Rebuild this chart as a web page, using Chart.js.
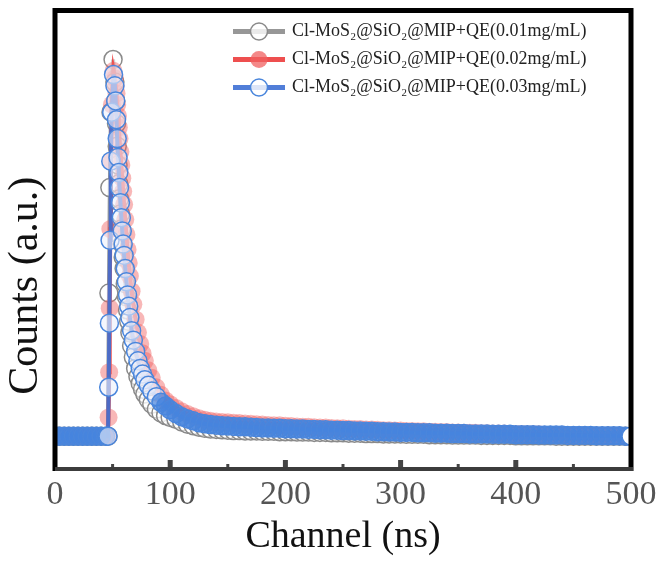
<!DOCTYPE html>
<html><head><meta charset="utf-8">
<script src="https://cdn.jsdelivr.net/npm/chart.js@4.4.1/dist/chart.umd.min.js"></script>
<style>html,body{margin:0;padding:0;background:#fff}</style>
</head><body>
<canvas id="c" width="663" height="563"></canvas>
<script>
// ---------- data (counts normalised, arbitrary units) ----------
const seriesLabels = [
  'Cl-MoS\u2082@SiO\u2082@MIP+QE(0.01mg/mL)',
  'Cl-MoS\u2082@SiO\u2082@MIP+QE(0.02mg/mL)',
  'Cl-MoS\u2082@SiO\u2082@MIP+QE(0.03mg/mL)'
];
const xTickValues = [0, 100, 200, 300, 400, 500];

const baselineChannels = [0, 4, 8, 12, 16, 20, 24, 28, 32, 36, 40, 44];
const baselineCounts   = [0, 0, 0, 0, 0, 0, 0, 0, 0, 0, 0, 0];

const grayRiseChannels = [46, 46.8, 47.6, 48.6, 50.4];
const grayRiseCounts   = [0.0, 0.38, 0.66, 0.86, 1.0];
const redRiseChannels  = [46, 46.5, 47, 47.5, 48, 48.6, 49.4, 50.8];
const redRiseCounts    = [0.0, 0.05, 0.17, 0.34, 0.55, 0.73, 0.88, 0.97];
const blueRiseChannels = [46, 46.6, 47.2, 47.8, 48.4, 49.2, 50.8];
const blueRiseCounts   = [0.0, 0.13, 0.30, 0.52, 0.73, 0.86, 0.96];

const decayChannels = [52, 52.7, 53.4, 54, 54.7, 55.4, 56, 56.8, 57.6, 58.4,
                       59.2, 60, 61, 62, 63, 64, 65, 66.5, 68, 70,
                       72, 74, 76, 78, 81, 84, 88, 92, 96, 100];
const grayDecayCounts = [0.94,0.89,0.83,0.77,0.72,0.67,0.63,0.59,0.55,0.51,
                         0.475,0.445,0.405,0.37,0.335,0.305,0.275,0.24,0.21,0.18,
                         0.158,0.14,0.125,0.112,0.097,0.085,0.072,0.062,0.055,0.05];
const redDecayCounts  = [0.95,0.93,0.91,0.88,0.85,0.82,0.79,0.755,0.72,0.685,
                         0.65,0.615,0.575,0.535,0.495,0.46,0.425,0.385,0.35,0.31,
                         0.275,0.245,0.22,0.2,0.175,0.155,0.13,0.11,0.095,0.085];
const blueDecayCounts = [0.93,0.89,0.84,0.79,0.74,0.70,0.66,0.62,0.58,0.545,
                         0.51,0.48,0.445,0.41,0.375,0.345,0.315,0.28,0.255,0.225,
                         0.2,0.18,0.165,0.15,0.135,0.12,0.105,0.09,0.08,0.07];

const tailChannels = [105,110,115,120,125,130,135,140,145,150,
                      155,160,165,170,175,180,185,190,195,200,
                      205,210,215,220,225,230,235,240,245,250,
                      255,260,265,270,275,280,285,290,295,300,
                      305,310,315,320,325,330,335,340,345,350,
                      355,360,365,370,375,380,385,390,395,400,
                      405,410,415,420,425,430,435,440,445,450,
                      455,460,465,470,475,480,485,490,495,500];
const grayTailCounts = [.045,.038,.032,.028,.024,.021,.019,.018,.017,.016,
                        .015,.015,.014,.014,.014,.013,.013,.013,.012,.012,
                        .012,.011,.011,.011,.010,.010,.010,.009,.009,.009,
                        .008,.008,.008,.007,.007,.007,.006,.006,.006,.006,
                        .005,.005,.005,.005,.004,.004,.004,.004,.003,.003,
                        .003,.003,.003,.002,.002,.002,.002,.002,.002,.001,
                        .001,.001,.001,.001,.001,.001,.000,.000,.000,.000,
                        .000,.000,.000,.000,.000,.000,.000,.000,.000,.000];
const redTailCounts  = [.075,.066,.059,.053,.048,.044,.041,.039,.038,.037,
                        .036,.035,.034,.033,.032,.031,.030,.029,.029,.028,
                        .027,.026,.025,.025,.024,.023,.023,.022,.021,.021,
                        .020,.019,.019,.018,.018,.017,.016,.016,.015,.015,
                        .014,.014,.013,.013,.012,.012,.011,.011,.010,.010,
                        .009,.009,.009,.008,.008,.007,.007,.007,.006,.006,
                        .006,.005,.005,.005,.004,.004,.004,.004,.003,.003,
                        .003,.003,.002,.002,.002,.002,.001,.001,.001,.001];
const blueTailCounts = [.060,.052,.046,.041,.036,.033,.031,.029,.028,.027,
                        .026,.025,.025,.024,.023,.022,.022,.021,.021,.020,
                        .020,.019,.019,.018,.018,.017,.017,.016,.016,.015,
                        .015,.014,.014,.013,.013,.012,.012,.011,.011,.010,
                        .010,.010,.009,.009,.009,.008,.008,.008,.007,.007,
                        .007,.006,.006,.006,.006,.005,.005,.005,.005,.004,
                        .004,.004,.004,.003,.003,.003,.003,.003,.002,.002,
                        .002,.002,.002,.001,.001,.001,.001,.001,.000,.000];

// ---------- build point lists ----------
function pts(chs, vals) { return chs.map((c, i) => ({ x: c, y: vals[i] })); }
function buildSeries(riseCh, riseVals, decayVals, tailVals) {
  return [].concat(pts(baselineChannels, baselineCounts), pts(riseCh, riseVals),
                   pts(decayChannels, decayVals), pts(tailChannels, tailVals));
}
const grayData = buildSeries(grayRiseChannels, grayRiseCounts, grayDecayCounts, grayTailCounts);
const redData  = buildSeries(redRiseChannels, redRiseCounts, redDecayCounts, redTailCounts);
const blueData = buildSeries(blueRiseChannels, blueRiseCounts, blueDecayCounts, blueTailCounts);

const SERIF = '"Liberation Serif", "Times New Roman", serif';

const styles = [
  { line: 'rgba(140,140,140,0.9)', fill: 'rgba(255,255,255,0.55)', stroke: '#8a8a8a' },
  { line: 'rgba(236,60,60,0.9)',   fill: 'rgba(240,96,96,0.45)',   stroke: 'rgba(240,96,96,0.45)' },
  { line: 'rgba(62,112,212,0.9)',  fill: 'rgba(236,240,252,0.6)',  stroke: '#4a86dc' }
];

function blueFill(ctx) {
  const p = ctx.raw;
  if (!p) return styles[2].fill;
  if (ctx.dataIndex === blueData.length - 1) return '#ffffff';
  return (p.x >= 90 || p.x < 46) ? 'rgba(70,132,222,0.7)' : styles[2].fill;
}

const frameLegend = {
  id: 'frameLegend',
  afterDraw(chart) {
    const { ctx, chartArea: a, scales: { x } } = chart;
    ctx.save();
    // inward ticks
    ctx.strokeStyle = '#444';
    for (let v = 50; v < 500; v += 50) {
      const px = x.getPixelForValue(v);
      const major = v % 100 === 0;
      ctx.lineWidth = major ? 5 : 3;
      ctx.beginPath();
      ctx.moveTo(px, a.bottom);
      ctx.lineTo(px, a.bottom - (major ? 9 : 5));
      ctx.stroke();
    }
    // frame
    ctx.strokeStyle = '#000';
    ctx.lineWidth = 5;
    ctx.beginPath();
    ctx.moveTo(a.left, a.bottom + 2); ctx.lineTo(a.left, a.top);
    ctx.lineTo(a.right, a.top); ctx.lineTo(a.right, a.bottom + 2);
    ctx.stroke();
    ctx.strokeStyle = '#3c3c3c';
    ctx.lineWidth = 4;
    ctx.beginPath();
    ctx.moveTo(a.left, a.bottom); ctx.lineTo(a.right + 2, a.bottom);
    ctx.stroke();

    // legend
    ctx.font = '18px ' + SERIF;
    ctx.textBaseline = 'middle';
    ctx.textAlign = 'left';
    for (let i = 0; i < 3; i++) {
      const y = a.top + 21 + i * 28;
      const x0 = a.right - 398, x1 = a.right - 346, cx = (x0 + x1) / 2;
      const s = styles[i];
      ctx.strokeStyle = s.line;
      ctx.lineWidth = 5;
      ctx.beginPath(); ctx.moveTo(x0, y); ctx.lineTo(x1, y); ctx.stroke();
      ctx.beginPath(); ctx.arc(cx, y, 8.5, 0, Math.PI * 2);
      ctx.fillStyle = i === 1 ? 'rgba(240,96,96,0.75)' : 'rgba(255,255,255,0.8)';
      ctx.fill();
      if (i !== 1) { ctx.strokeStyle = s.stroke; ctx.lineWidth = 1.5; ctx.stroke(); }
      ctx.fillStyle = '#222';
      ctx.fillText(seriesLabels[i], a.right - 339, y);
    }

    // y title
    ctx.save();
    ctx.translate(26, (a.top + a.bottom) / 2 + 46);
    ctx.rotate(-Math.PI / 2);
    ctx.font = '42px ' + SERIF;
    ctx.textAlign = 'center';
    ctx.fillStyle = '#111';
    ctx.fillText('Counts (a.u.)', 0, 0);
    ctx.restore();
    ctx.restore();
  }
};

new Chart(document.getElementById('c'), {
  type: 'line',
  data: {
    datasets: [
      { label: seriesLabels[0], data: grayData, order: 3,
        borderColor: styles[0].line, borderWidth: 4,
        pointRadius: 9, pointBorderWidth: 1.5,
        pointBorderColor: styles[0].stroke, pointBackgroundColor: styles[0].fill },
      { label: seriesLabels[1], data: redData, order: 2,
        borderColor: styles[1].line, borderWidth: 4,
        pointRadius: 9, pointBorderWidth: 0,
        pointBorderColor: styles[1].stroke, pointBackgroundColor: styles[1].fill },
      { label: seriesLabels[2], data: blueData, order: 1,
        borderColor: styles[2].line, borderWidth: 4,
        pointRadius: 9, pointBorderWidth: 1.5,
        pointBorderColor: styles[2].stroke, pointBackgroundColor: blueFill }
    ]
  },
  options: {
    responsive: false,
    animation: false,
    clip: 0,
    layout: { padding: { top: 5, right: 32, left: 0, bottom: 0 } },
    elements: { line: { tension: 0 } },
    plugins: { legend: { display: false }, tooltip: { enabled: false } },
    scales: {
      x: {
        type: 'linear', min: 0, max: 500,
        grid: { display: false, drawTicks: false },
        border: { display: false },
        afterBuildTicks: (s) => { s.ticks = xTickValues.map(v => ({ value: v })); },
        ticks: { color: '#555', padding: 6, font: { family: SERIF, size: 34 } },
        title: { display: true, text: 'Channel (ns)', color: '#111',
                 font: { family: SERIF, size: 38 }, padding: { top: 0, bottom: 3 } },
        afterFit: (s) => { s.height = 94; }
      },
      y: {
        min: -0.087, max: 1.13,
        grid: { display: false, drawTicks: false },
        border: { display: false },
        ticks: { display: false },
        afterFit: (s) => { s.width = 55; }
      }
    }
  },
  plugins: [frameLegend]
});
</script>
</body></html>
